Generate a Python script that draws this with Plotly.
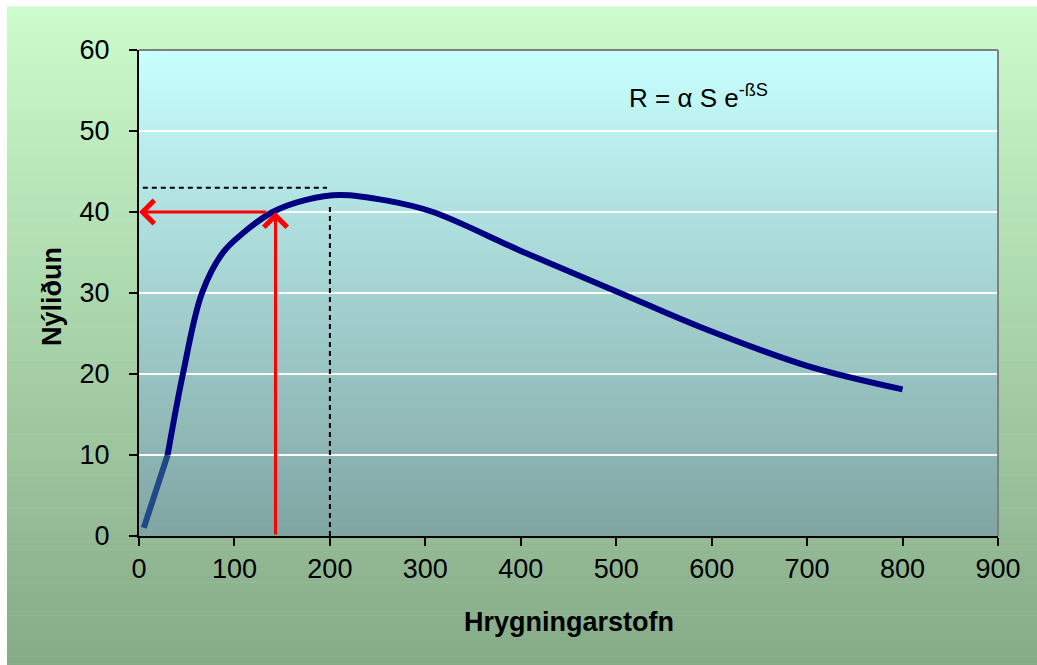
import plotly.graph_objects as go

# Spawning stock (S) and recruitment (R) along the fitted Ricker curve
stock_start = [5, 30]
recruit_start = [1, 10]
stock = [30, 46, 66, 88, 110, 140, 175, 211, 260, 308, 400, 504, 588, 700, 800]
recruit = [10, 20, 30, 35, 37.5, 40, 41.5, 42.1, 41.4, 40, 35.2, 30, 25.8, 21, 18.1]

# Reading aid: stock level -> recruitment
read_stock = 143
read_recruit = 40
read_arrow_from = 135

# Maximum of the curve (dashed guides)
peak_h_x = [4, 197]
peak_h_y = [43, 43]
peak_v_x = [200, 200]
peak_v_y = [0, 41]

x_ticks = [0, 100, 200, 300, 400, 500, 600, 700, 800, 900]
y_ticks = [0, 10, 20, 30, 40, 50, 60]

W, H = 1037, 665
L, R, T, B = 139, 39, 50, 129
pw, ph = W - L - R, H - T - B


def lerp(c0, c1, t):
    return "rgb(%d,%d,%d)" % tuple(round(a + (b - a) * t) for a, b in zip(c0, c1))


def px_x(p):
    return (p - L) / pw


def px_y(p):
    return (H - B - p) / ph


shapes = []

# Outer green panel gradient (light at top, darker at bottom)
outer_top, outer_bot = (204, 252, 204), (133, 170, 135)
n_out = 80
y_top, y_bot = px_y(7), px_y(H)
for i in range(n_out):
    ya = y_top + (y_bot - y_top) * i / n_out
    yb = y_top + (y_bot - y_top) * (i + 1) / n_out
    shapes.append(dict(type="rect", xref="paper", yref="paper",
                       x0=px_x(7), x1=px_x(W) + 0.01, y0=yb, y1=ya + 0.001,
                       fillcolor=lerp(outer_top, outer_bot, (i + 0.5) / n_out),
                       line=dict(width=0), layer="below"))

# Plot area gradient (cyan at top, grey-teal at bottom)
plot_top, plot_bot = (200, 255, 255), (128, 165, 163)
n_in = 120
for i in range(n_in):
    ya = 60 - 60 * i / n_in
    yb = 60 - 60 * (i + 1) / n_in
    shapes.append(dict(type="rect", xref="paper", yref="y",
                       x0=0, x1=1, y0=yb, y1=ya + 0.05,
                       fillcolor=lerp(plot_top, plot_bot, (i + 0.5) / n_in),
                       line=dict(width=0), layer="below"))

# Grey frame on top and right of the plot area
shapes.append(dict(type="line", xref="paper", yref="paper", x0=0, x1=1, y0=1, y1=1,
                   line=dict(color="#808080", width=2)))
shapes.append(dict(type="line", xref="paper", yref="paper", x0=1, x1=1, y0=0, y1=1,
                   line=dict(color="#808080", width=2)))

fig = go.Figure()

fig.add_trace(go.Scatter(x=peak_h_x, y=peak_h_y, mode="lines",
                         line=dict(color="black", width=2, dash="5px,4px"),
                         hoverinfo="skip", showlegend=False))
fig.add_trace(go.Scatter(x=peak_v_x, y=peak_v_y, mode="lines",
                         line=dict(color="black", width=2, dash="5px,4px"),
                         hoverinfo="skip", showlegend=False))

fig.add_trace(go.Scatter(x=stock_start, y=recruit_start, mode="lines",
                         line=dict(color="#1F4A87", width=6),
                         showlegend=False))
fig.add_trace(go.Scatter(x=stock, y=recruit, mode="lines",
                         line=dict(color="#000080", width=6, shape="spline", smoothing=1.0),
                         showlegend=False))

annotations = [
    # vertical red arrow from the stock axis up to the curve
    dict(x=read_stock, y=read_recruit, ax=read_stock, ay=0, xref="x", yref="y",
         axref="x", ayref="y", showarrow=True, arrowhead=4, arrowsize=1.5,
         arrowwidth=3, arrowcolor="#FF0000", text="", standoff=0),
    # horizontal red arrow from the curve to the recruitment axis
    dict(x=0, y=read_recruit, ax=read_arrow_from, ay=read_recruit, xref="x", yref="y",
         axref="x", ayref="y", showarrow=True, arrowhead=4, arrowsize=1.5,
         arrowwidth=3, arrowcolor="#FF0000", text="", standoff=0),
    dict(text="R = α S e<sup>-ßS</sup>", xref="paper", yref="paper",
         x=px_x(627), y=px_y(97), xanchor="left", yanchor="middle", showarrow=False,
         font=dict(family="Liberation Sans, Arial", size=26, color="black")),
    dict(text="<b>Hrygningarstofn</b>", xref="paper", yref="paper",
         x=px_x(569), y=px_y(622), xanchor="center", yanchor="middle", showarrow=False,
         font=dict(family="Liberation Sans, Arial", size=27, color="black")),
    dict(text="<b>Nýliðun</b>", xref="paper", yref="paper", textangle=-90,
         x=px_x(52), y=px_y(297), xanchor="center", yanchor="middle", showarrow=False,
         font=dict(family="Liberation Sans, Arial", size=27, color="black")),
]

fig.update_layout(
    width=W, height=H,
    margin=dict(l=L, r=R, t=T, b=B, pad=0),
    paper_bgcolor="white",
    plot_bgcolor="rgba(0,0,0,0)",
    shapes=shapes,
    annotations=annotations,
    font=dict(family="Liberation Sans, Arial", size=27, color="black"),
    showlegend=False,
)

fig.update_xaxes(range=[0, 900], tickvals=x_ticks, ticktext=[str(v) for v in x_ticks],
                 showgrid=False, zeroline=False, showline=True, linecolor="black",
                 linewidth=2, ticks="outside", ticklen=8, tickwidth=2, tickcolor="black",
                 tickfont=dict(size=27), fixedrange=True)
fig.update_yaxes(range=[0, 60], tickvals=y_ticks, ticktext=[str(v) for v in y_ticks],
                 showgrid=True, gridcolor="white", gridwidth=2, zeroline=False,
                 showline=True, linecolor="black", linewidth=2, ticks="outside",
                 ticklen=8, tickwidth=2, tickcolor="black", ticklabelstandoff=14,
                 tickfont=dict(size=27), fixedrange=True)

fig.write_html("out.html")
